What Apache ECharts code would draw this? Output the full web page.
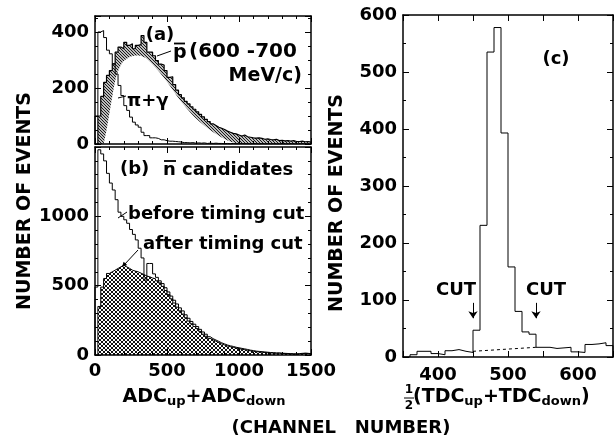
<!DOCTYPE html>
<html>
<head>
<meta charset="utf-8">
<script src="https://cdn.jsdelivr.net/npm/echarts@6/dist/echarts.min.js"></script>
<style>
  html, body { margin: 0; padding: 0; background: #fff; }
  #chart { width: 616px; height: 440px; }
</style>
</head>
<body>
<div id="chart"></div>
<script>
// panel (a) and (b): ADC spectra, 20-channel bins from 0 to 1500
const adcStart = 0;
const adcBinWidth = 20;
const pbarCounts = [
  0, 100, 170, 220, 245, 262, 286, 328, 346, 340,
  363, 352, 358, 340, 352, 355, 387, 363, 328, 328,
  315, 298, 285, 282, 262, 238, 240, 212, 192, 176,
  165, 152, 143, 133, 124, 115, 106, 97, 88, 80,
  72, 66, 60, 56, 52, 46, 42, 38, 36, 32,
  28, 32, 26, 24, 22, 21, 22, 20, 17, 18,
  16, 15, 17, 12, 13, 11, 12, 10, 12, 9,
  9, 10, 8, 9, 7
];
const pigammaCounts = [
  100, 400, 405, 380, 335, 322, 286, 250, 209, 173,
  137, 120, 96, 78, 68, 60, 42, 30, 30, 22,
  22, 20, 15, 15, 12, 10, 10, 9, 8, 7,
  5, 5, 4, 5, 3, 4, 3, 4, 2, 3,
  2, 3, 2, 2, 1, 2, 1, 2, 1, 1,
  2, 1, 1, 0, 1, 1, 0, 1, 0, 1,
  0, 1, 0, 0, 1, 0, 0, 1, 0, 0,
  0, 1, 0, 0, 0
];
// smooth curve under the pbar histogram (lower edge of the hatched band)
const pbarCurveX = [60, 80, 100, 120, 140, 160, 180, 200, 250, 300, 350, 400, 450, 500, 550, 600, 650, 700, 750, 800, 850, 900, 950, 1000];
const pbarCurveY = [0, 50, 110, 170, 225, 260, 282, 296, 312, 316, 308, 284, 255, 222, 186, 150, 120, 92, 70, 50, 33, 18, 7, 0];

const beforeCutCounts = [
  490, 1480, 1450, 1400, 1310, 1240, 1190, 1120, 1030, 1000,
  975, 950, 905, 870, 830, 770, 700, 540, 660, 660,
  585, 560, 535, 515, 485, 455, 425, 395, 368, 340,
  318, 290, 265, 242, 222, 205, 185, 166, 150, 132,
  118, 108, 98, 88, 80, 72, 66, 62, 56, 52,
  48, 44, 40, 35, 32, 28, 26, 24, 22, 20,
  18, 17, 15, 15, 13, 12, 11, 10, 9, 8,
  10, 12, 13, 12, 10
];
const afterCutCounts = [
  0, 350, 490, 552, 588, 600, 612, 624, 636, 648,
  636, 625, 612, 605, 600, 590, 580, 570, 564, 555,
  550, 535, 520, 495, 465, 435, 405, 375, 345, 318,
  295, 268, 245, 225, 205, 190, 170, 150, 135, 120,
  110, 100, 90, 80, 72, 65, 60, 55, 50, 46,
  42, 38, 34, 30, 27, 24, 22, 20, 18, 16,
  15, 14, 12, 13, 11, 10, 9, 8, 7, 6,
  8, 10, 12, 11, 9
];

// panel (c): TDC mean, 10-channel bins from 350
const tdcStart = 350;
const tdcBinWidth = 10;
const tdcCounts = [
  0, 4, 10, 10, 6, 4, 11, 13, 10, 8,
  47, 231, 535, 578, 393, 158, 80, 44, 40, 17,
  17, 15, 16, 17, 9, 8, 22, 23, 25, 20
];
const tdcBackgroundX = [450, 540];
const tdcBackgroundY = [10, 17];
const cutChannels = [450, 540];
const cutArrowFrom = 95;
const cutArrowTo = 68;

// tick labels
const adcTicks = [0, 500, 1000, 1500];
const panelATicks = [0, 200, 400];
const panelBTicks = [0, 500, 1000];
const tdcXTicks = [400, 500, 600];
const tdcYTicks = [0, 100, 200, 300, 400, 500, 600];

const FONT = 'DejaVu Sans';

function histData(start, width, counts) {
  const pts = [[start, 0]];
  counts.forEach((c, i) => pts.push([start + i * width, c]));
  pts.push([start + counts.length * width, 0]);
  return pts;
}

function pattern(size, width, draw) {
  const c = document.createElement('canvas');
  c.width = size; c.height = size;
  const g = c.getContext('2d');
  g.fillStyle = '#fff';
  g.fillRect(0, 0, size, size);
  g.strokeStyle = '#111';
  g.lineWidth = width;
  draw(g, size);
  return { image: c, repeat: 'repeat' };
}
const hatch = pattern(3, 1.1, (g, s) => {
  g.beginPath(); g.moveTo(-1, -1); g.lineTo(s + 1, s + 1); g.stroke();
  g.beginPath(); g.moveTo(-1, s - 1); g.lineTo(1, s + 1); g.stroke();
  g.beginPath(); g.moveTo(s - 1, -1); g.lineTo(s + 1, 1); g.stroke();
});
const stipple = pattern(4, 1, (g, s) => {
  g.beginPath(); g.moveTo(-1, -1); g.lineTo(s + 1, s + 1); g.stroke();
  g.beginPath(); g.moveTo(s + 1, -1); g.lineTo(-1, s + 1); g.stroke();
});

const labelFont = { color: '#000', fontFamily: FONT, fontWeight: 'bold', fontSize: 18 };

function axis(extra, ticks) {
  const a = {
    type: 'value', z: 10,
    axisLine: { show: true, onZero: false, lineStyle: { color: '#000', width: 1.5 } },
    axisTick: { show: true, inside: true, length: 6, lineStyle: { color: '#000', width: 1 } },
    minorTick: { show: false },
    splitLine: { show: false },
    axisLabel: { show: false }
  };
  if (ticks) {
    a.axisLabel = Object.assign({ show: true, margin: 7, formatter: v => ticks.includes(v) ? String(v) : '' }, labelFont);
  }
  return Object.assign(a, extra);
}
const minor = n => ({ minorTick: { show: true, splitNumber: n, length: 3, lineStyle: { color: '#000', width: 1 } } });

const xAxis = [
  axis(Object.assign({ gridIndex: 0, min: 0, max: 1500, interval: 500, position: 'bottom' }, minor(5))),
  axis(Object.assign({ gridIndex: 0, min: 0, max: 1500, interval: 500, position: 'top' }, minor(5))),
  axis(Object.assign({ gridIndex: 1, min: 0, max: 1500, interval: 500, position: 'bottom' }, minor(5)), adcTicks),
  axis(Object.assign({ gridIndex: 1, min: 0, max: 1500, interval: 500, position: 'top' }, minor(5))),
  axis({ gridIndex: 2, min: 350, max: 650, interval: 50, position: 'bottom' }, tdcXTicks),
  axis({ gridIndex: 2, min: 350, max: 650, interval: 50, position: 'top' })
];
xAxis[4].axisLabel.margin = 9;
const yAxis = [
  axis(Object.assign({ gridIndex: 0, min: 0, max: 457, interval: 200, position: 'left' }, minor(4)), panelATicks),
  axis(Object.assign({ gridIndex: 0, min: 0, max: 457, interval: 200, position: 'right' }, minor(4))),
  axis(Object.assign({ gridIndex: 1, min: 0, max: 1500, interval: 500, position: 'left' }, minor(5)), panelBTicks),
  axis(Object.assign({ gridIndex: 1, min: 0, max: 1500, interval: 500, position: 'right' }, minor(5))),
  axis(Object.assign({ gridIndex: 2, min: 0, max: 600, interval: 100, position: 'left' }, minor(2)), tdcYTicks),
  axis(Object.assign({ gridIndex: 2, min: 0, max: 600, interval: 100, position: 'right' }, minor(2)))
];
yAxis.forEach(a => { if (a.axisLabel.show) a.axisLabel.margin = 6; });

const thin = { color: '#000', width: 1 };
const series = [
  // (a) hatched pbar spectrum, then the smooth curve blanks out the region below it
  { type: 'line', xAxisIndex: 0, yAxisIndex: 0, step: 'end', symbol: 'none',
    data: histData(adcStart, adcBinWidth, pbarCounts),
    lineStyle: { opacity: 0 }, areaStyle: { color: hatch, opacity: 1 } },
  { type: 'line', xAxisIndex: 0, yAxisIndex: 0, smooth: 0.3, symbol: 'none',
    data: pbarCurveX.map((x, i) => [x, pbarCurveY[i]]),
    lineStyle: { opacity: 0 }, areaStyle: { color: '#fff', opacity: 1 } },
  { type: 'line', xAxisIndex: 0, yAxisIndex: 0, step: 'end', symbol: 'none',
    data: histData(adcStart, adcBinWidth, pigammaCounts), lineStyle: thin },
  { type: 'line', xAxisIndex: 0, yAxisIndex: 0, step: 'end', symbol: 'none',
    data: histData(adcStart, adcBinWidth, pbarCounts), lineStyle: { color: '#000', width: 1.2 } },
  // (b)
  { type: 'line', xAxisIndex: 2, yAxisIndex: 2, step: 'end', symbol: 'none',
    data: histData(adcStart, adcBinWidth, afterCutCounts),
    lineStyle: thin, areaStyle: { color: stipple, opacity: 1 } },
  { type: 'line', xAxisIndex: 2, yAxisIndex: 2, step: 'end', symbol: 'none',
    data: histData(adcStart, adcBinWidth, beforeCutCounts), lineStyle: thin },
  // (c)
  { type: 'line', xAxisIndex: 4, yAxisIndex: 4, symbol: 'none',
    data: tdcBackgroundX.map((x, i) => [x, tdcBackgroundY[i]]),
    lineStyle: { color: '#000', width: 1, type: [3, 3] } },
  { type: 'line', xAxisIndex: 4, yAxisIndex: 4, step: 'end', symbol: 'none',
    data: histData(tdcStart, tdcBinWidth, tdcCounts), lineStyle: thin,
    markLine: {
      silent: true, symbol: ['none', 'arrow'], symbolSize: 7,
      label: { show: false },
      lineStyle: { color: '#000', width: 1, type: 'solid' },
      data: cutChannels.map(c => [{ coord: [c, cutArrowFrom] }, { coord: [c, cutArrowTo] }])
    } }
];

function txt(x, y, text, extra) {
  return {
    type: 'text', x: x, y: y, z: 20,
    style: Object.assign({ text: text, fill: '#000', fontFamily: FONT, fontWeight: 'bold', fontSize: 18,
      align: 'left', verticalAlign: 'middle' }, extra || {})
  };
}
function seg(x1, y1, x2, y2, w) {
  return { type: 'line', z: 20, shape: { x1, y1, x2, y2 }, style: { stroke: '#000', lineWidth: w || 1 } };
}
const subRich = {
  m: { fontFamily: FONT, fontWeight: 'bold', fontSize: 19 },
  s: { fontFamily: FONT, fontWeight: 'bold', fontSize: 13, padding: [9, 0, 0, 0] }
};

const graphic = [
  Object.assign(txt(25, 201, 'NUMBER OF EVENTS', { fontSize: 19, align: 'center' }), { rotation: Math.PI / 2 }),
  Object.assign(txt(337, 203, 'NUMBER OF EVENTS', { fontSize: 19, align: 'center' }), { rotation: Math.PI / 2 }),
  txt(160, 35, '(a)', { align: 'center' }),
  txt(173, 53, 'p', { fontSize: 19 }),
  seg(174, 43.5, 185, 43.5, 1.8),
  txt(189, 52, '(600 -700', { fontSize: 20 }),
  txt(302, 76, 'MeV/c)', { align: 'right', fontSize: 19 }),
  seg(157, 56, 171, 51),
  txt(127, 101, '\u03c0+\u03b3'),
  seg(118, 98, 126, 96),
  txt(120, 169, '(b)'),
  txt(163, 170, 'n'),
  seg(164, 161, 176, 161, 1.8),
  txt(182, 170, 'candidates'),
  txt(128, 214, 'before timing cut'),
  seg(118, 218, 127, 212),
  txt(143, 244, 'after timing cut'),
  seg(138, 250, 124, 265),
  { type: 'polygon', z: 20, shape: { points: [[122, 267], [127.2, 265.1], [123.6, 261.7]] }, style: { fill: '#000' } },
  txt(556, 59, '(c)', { align: 'center' }),
  txt(456, 290, 'CUT', { align: 'center' }),
  txt(546, 290, 'CUT', { align: 'center' }),
  txt(204, 397, '{m|ADC}{s|up}{m|+ADC}{s|down}', { align: 'center', rich: subRich }),
  txt(409, 390, '1', { align: 'center', fontSize: 12 }),
  seg(404, 398, 414, 398),
  txt(409, 406, '2', { align: 'center', fontSize: 12 }),
  txt(413, 397, '{m|(TDC}{s|up}{m|+TDC}{s|down}{m|)}', { rich: subRich }),
  txt(341, 428, '(CHANNEL   NUMBER)', { align: 'center' })
];

const option = {
  animation: false,
  backgroundColor: '#fff',
  grid: [
    { left: 95, top: 16, width: 216, height: 128 },
    { left: 95, top: 147, width: 216, height: 208 },
    { left: 403, top: 15, width: 213.5, height: 342 }
  ],
  xAxis: xAxis,
  yAxis: yAxis,
  series: series,
  graphic: { elements: graphic }
};

const chart = echarts.init(document.getElementById('chart'));
chart.setOption(option);
</script>
</body>
</html>
